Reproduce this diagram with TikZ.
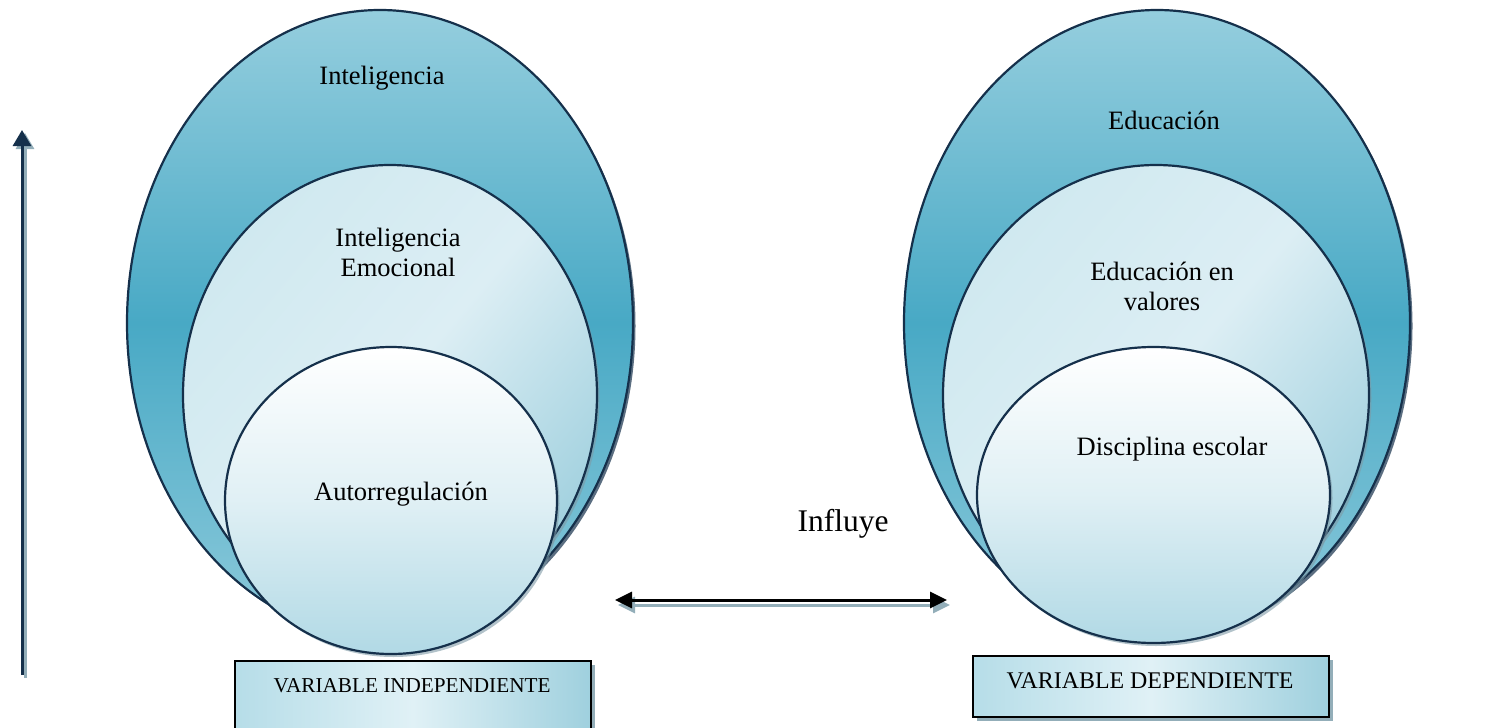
\documentclass[tikz,border=0pt]{standalone}
\usepackage{fontspec}
\setmainfont{Liberation Serif}
\usetikzlibrary{shapes.geometric,arrows.meta,shadows}
\definecolor{navy}{HTML}{15304B}
\definecolor{otop}{HTML}{95CEDE}
\definecolor{omid}{HTML}{48A9C5}
\definecolor{obot}{HTML}{8DCADB}
\definecolor{mlight}{HTML}{DCEEF4}
\definecolor{mdark}{HTML}{A2D1DF}
\definecolor{mtop}{HTML}{D0E9F0}
\definecolor{ibot}{HTML}{B1D9E5}
\definecolor{shade}{HTML}{7E9AA6}
\definecolor{arrsh}{HTML}{93AEB9}
\definecolor{bxl}{HTML}{B6DDE8}
\definecolor{bxm}{HTML}{E0F1F6}
\definecolor{bxr}{HTML}{9FD0DE}
\tikzset{
  ell/.style={ellipse, draw=navy, line width=2.2pt, inner sep=0pt},
  outerell/.style={ell, top color=otop, bottom color=obot, middle color=omid,
     drop shadow={shadow xshift=2.5pt, shadow yshift=-3pt, fill=navy, opacity=0.7}},
  midell/.style={ell, top color=mtop, bottom color=mdark, middle color=mlight, shading angle=50,
     drop shadow={shadow xshift=2.5pt, shadow yshift=-3pt, fill=shade, opacity=0.6}},
  innerell/.style={ell, top color=white, bottom color=ibot, middle color=white!60!ibot,
     drop shadow={shadow xshift=2.5pt, shadow yshift=-3pt, fill=shade, opacity=0.6}},
  lbl/.style={font=\fontsize{26.5}{30}\selectfont, align=center, inner sep=0pt},
  varbox/.style={rectangle, draw=black, line width=2pt, inner sep=0pt,
     left color=bxl, right color=bxr, middle color=bxm,
     drop shadow={shadow xshift=4pt, shadow yshift=-4pt, fill=arrsh, opacity=1}},
  arr/.style={line width=3pt},
}
\begin{document}
\begin{tikzpicture}[x=1pt,y=-1pt]
\useasboundingbox (0,0) rectangle (1510,728);
\clip (0,0) rectangle (1510,728);

% left group
\node[outerell, minimum width=506pt, minimum height=626pt] (lo) at (380,323) {};
\node[midell, minimum width=414pt, minimum height=460pt] (lm) at (390,395) {};
\node[innerell, minimum width=332pt, minimum height=307pt] (li) at (391,500.5) {};
\node[lbl] (t1) at (382,78) {Inteligencia};
\node[lbl] (t2) at (398,252) {Inteligencia\\Emocional};
\node[lbl] (t3) at (401,494) {Autorregulación};

% right group
\node[outerell, minimum width=506pt, minimum height=626pt] (ro) at (1157,323) {};
\node[midell, minimum width=426pt, minimum height=460pt] (rm) at (1156,395) {};
\node[innerell, minimum width=353pt, minimum height=296pt] (ri) at (1153.5,495) {};
\node[lbl] (t4) at (1164,120) {Educación};
\node[lbl] (t5) at (1162,286) {Educación en\\valores};
\node[lbl] (t6) at (1172,449) {Disciplina escolar};

% boxes
\node[varbox, minimum width=356pt, minimum height=80pt, anchor=north west] (bl) at (234,660) {};
\node[lbl, font=\fontsize{21.2}{24}\selectfont] (bltxt) at (412,686) {VARIABLE INDEPENDIENTE};
\node[varbox, minimum width=356pt, minimum height=61pt, anchor=north west] (br) at (972,655) {};
\node[lbl, font=\fontsize{23.9}{27}\selectfont] (brtxt) at (1150,681) {VARIABLE DEPENDIENTE};

% vertical arrow
\coordinate (va) at (22,675);
\coordinate (vb) at (22,130);
\draw[arr, draw=arrsh, -{Triangle[width=18pt,length=16pt]}, arrsh] ([shift={(3,3)}]va) -- ([shift={(3,3)}]vb);
\draw[arr, draw=navy, -{Triangle[width=18pt,length=16pt]}, navy] (va) -- (vb);

% horizontal arrow
\coordinate (ha) at (615,600);
\coordinate (hb) at (947,600);
\draw[arr, draw=arrsh, {Triangle[width=16pt,length=17pt]}-{Triangle[width=16pt,length=17pt]}, arrsh] ([shift={(3,5)}]ha) -- ([shift={(3,5)}]hb);
\draw[arr, draw=black, {Triangle[width=16pt,length=17pt]}-{Triangle[width=16pt,length=17pt]}, black] (ha) -- (hb);
\node[lbl, font=\fontsize{31.5}{34}\selectfont] (inf) at (843,524) {Influye};
\end{tikzpicture}
\end{document}
